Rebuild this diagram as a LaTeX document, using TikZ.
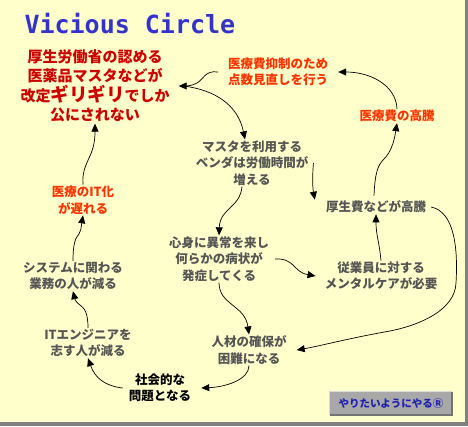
\documentclass[tikz,border=0pt]{standalone}
\usepackage{fontspec}
\newfontfamily\jp{Noto Sans CJK JP}
\newfontfamily\ttl{DejaVu Sans Mono}
\usetikzlibrary{arrows.meta,calc}
\definecolor{bgy}{HTML}{FFFFCC}
\definecolor{framegray}{HTML}{808080}
\definecolor{ttlblue}{HTML}{3333CC}
\definecolor{dred}{HTML}{CC0000}
\definecolor{ored}{HTML}{FF3300}
\definecolor{gtxt}{HTML}{555555}
\definecolor{btnfill}{HTML}{A8A8A8}
\definecolor{btntext}{HTML}{2020B0}
\begin{document}
\begin{tikzpicture}[x=1pt,y=-1pt,
  txt/.style={align=center,inner sep=1pt,font=\jp\bfseries\fontsize{12.5}{16.5}\selectfont,text=gtxt},
  hot/.style={txt,text=ored},
  conn/.style={draw=black,line width=0.7pt,-{Triangle[length=8pt,width=7pt]}}]
\useasboundingbox (0,0) rectangle (468,426);
\fill[framegray] (0,0) rectangle (468,426);
\fill[bgy] (0,0) rectangle (465,422);
% title
\node[anchor=base west,text=ttlblue,font=\ttl\bfseries\fontsize{25}{28}\selectfont] (title) at (21,33) {Vicious Circle};
% nodes
\node[txt,text=dred,font=\jp\bfseries\fontsize{15}{19.5}\selectfont] (n1) at (95,86)
  {厚生労働省の認める\\医薬品マスタなどが\\改定{\fontsize{18.5}{19.5}\selectfont ギリギリ}でしか\\公にされない};
\node[hot] (n2) at (278,72) {医療費抑制のため\\点数見直しを行う};
\node[hot] (n3) at (397,116) {医療費の高騰};
\node[txt] (n4) at (252,163) {マスタを利用する\\ベンダは労働時間が\\増える};
\node[txt] (n5) at (376,207) {厚生費などが高騰};
\node[txt] (n6) at (219,259) {心身に異常を来し\\何らかの病状が\\発症してくる};
\node[txt] (n7) at (381,276) {従業員に対する\\メンタルケアが必要};
\node[txt] (n8) at (249,350) {人材の確保が\\困難になる};
\node[txt,text=black] (n9) at (160,388) {社会的な\\問題となる};
\node[txt] (n10) at (88,343) {ITエンジニアを\\志す人が減る};
\node[txt] (n11) at (73,276) {システムに関わる\\業務の人が減る};
\node[hot] (n12) at (83,200) {医療のIT化\\が遅れる};
% button
\node[fill=btnfill,minimum width=122pt,minimum height=23pt,inner sep=0pt,
  text=btntext,font=\jp\bfseries\fontsize{10.5}{12}\selectfont] (btn) at (391,403.5) {やりたいようにやるⓇ};
\draw[white!85!black,line width=1pt] (btn.south west) -- (btn.north west) -- (btn.north east);
\draw[black!55,line width=1.5pt] (btn.north east) -- (btn.south east) -- (btn.south west);
% connectors
\draw[conn] (n12.north) .. controls (82,172) and (86,165) .. (89,158) .. controls (93,150) and (95,142) .. (n1.south);
\draw[conn] (n11.north) .. controls (73,245) and (75,238) .. (79,234) .. controls (81,231) and (81,228) .. (n12.south);
\draw[conn] (n10.north) .. controls (88,312) and (84,308) .. (80,305) .. controls (77,303) and (75,300) .. (n11.south);
\draw[conn] ([xshift=-5pt]n9.west) .. controls (105,386) and (95,378) .. (n10.south);
\draw[conn] (n8.south) .. controls (249,380) and (225,387) .. ([xshift=9pt]n9.east);
\draw[conn] (n6.south) .. controls (219,305) and (245,305) .. (n8.north);
\draw[conn] ([xshift=5pt]n6.east) .. controls (295,258) and (293,272) .. ([xshift=-8pt]n7.west);
\draw[conn] (n7.north) .. controls (379,240) and (376,235) .. (n5.south);
\draw[conn] ([xshift=4pt]n5.east) .. controls (455,212) and (458,250) .. (456,283) .. controls (455,310) and (420,325) .. (390,331) .. controls (350,338) and (320,346) .. ([xshift=9pt]n8.east);
\draw[conn] ([xshift=4pt]n4.east) .. controls (312,180) and (313,190) .. ([xshift=-10pt]n5.north west);
\draw[conn] ([xshift=-2pt,yshift=4pt]n5.north) .. controls (375,172) and (378,165) .. (384,159) .. controls (391,152) and (394,142) .. (n3.south);
\draw[conn] (n3.north) .. controls (396,85) and (370,72) .. ([xshift=9pt]n2.east);
\draw[conn] ([xshift=-9pt]n2.west) .. controls (205,70) and (203,80) .. (197,83) .. controls (192,86) and (185,86) .. ([xshift=8pt]n1.east);
\draw[conn] ([xshift=13pt]n1.east) .. controls (215,90) and (238,105) .. ([xshift=-7pt]n4.north);
\draw[conn] ([xshift=-10pt]n4.south) .. controls (240,208) and (220,208) .. (n6.north);
\end{tikzpicture}
\end{document}
